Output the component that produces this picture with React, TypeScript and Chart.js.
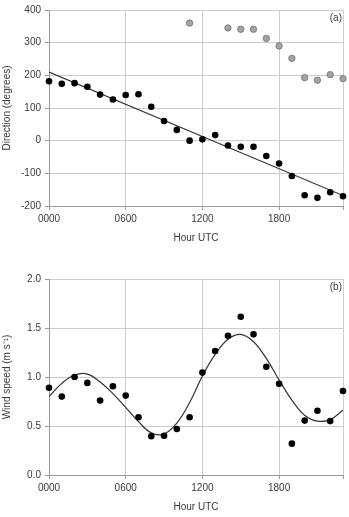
import { useEffect, useRef } from 'react';
import { Chart, registerables } from 'chart.js';

Chart.register(...registerables);

// Hourly observations, 0000–2300 UTC
const hours = [0, 1, 2, 3, 4, 5, 6, 7, 8, 9, 10, 11, 12, 13, 14, 15, 16, 17, 18, 19, 20, 21, 22, 23];

// (a) wind direction, degrees (unwrapped)
const directionDeg = [182, 174, 176, 165, 141, 126, 140, 142, 104, 60, 33, 0, 4, 17, -15, -19, -19, -47, -70, -108, -167, -175, -158, -170];
// same directions shown again on the 0–360 scale
const wrappedHours = [11, 14, 15, 16, 17, 18, 19, 20, 21, 22, 23];
const wrappedDeg = [360, 345, 341, 341, 313, 290, 252, 193, 185, 202, 190];
// linear trend through the unwrapped directions
const trendHours = [0, 23];
const trendDeg = [210, -168];

// (b) wind speed, m/s
const windSpeed = [0.89, 0.8, 1.0, 0.94, 0.76, 0.905, 0.81, 0.59, 0.395, 0.4, 0.47, 0.59, 1.045, 1.265, 1.42, 1.615, 1.435, 1.105, 0.93, 0.32, 0.555, 0.655, 0.55, 0.857];
// harmonic fit to the wind speed
const windFit = [0.8, 0.935, 1.02, 1.03, 0.95, 0.83, 0.69, 0.545, 0.43, 0.42, 0.53, 0.74, 1.01, 1.23, 1.385, 1.435, 1.36, 1.19, 0.97, 0.765, 0.61, 0.55, 0.565, 0.66];

const hourTickValues = [0, 6, 12, 18];
const hourTickLabels = ['0000', '0600', '1200', '1800'];

const FONT = "'Liberation Sans', Arial, sans-serif";
const TEXT = '#3a3a3a';
const GRID = '#cdcdcd';
const AXIS = '#9a9a9a';

const pts = (xs: number[], ys: number[]) => xs.map((x, i) => ({ x, y: ys[i] }));

const panelLabel = {
  id: 'panelLabel',
  afterDraw(chart: any, _args: any, opts: any) {
    const { ctx, chartArea } = chart;
    ctx.save();
    ctx.font = `10px ${FONT}`;
    ctx.fillStyle = TEXT;
    ctx.textAlign = 'right';
    ctx.textBaseline = 'middle';
    ctx.fillText(opts.text, chartArea.right - 1, chartArea.top + 8);
    ctx.restore();
  },
};

function hourAxis(axisHeight: number, titlePadBottom: number) {
  return {
    type: 'linear',
    min: 0,
    max: 23,
    afterBuildTicks(scale: any) {
      scale.ticks = [...hourTickValues, 23].map((v) => ({ value: v }));
    },
    afterFit(scale: any) {
      scale.height = axisHeight;
    },
    ticks: {
      autoSkip: false,
      maxRotation: 0,
      padding: 3,
      color: TEXT,
      font: { family: FONT, size: 10 },
      callback: (v: number) => {
        const i = hourTickValues.indexOf(v);
        return i >= 0 ? hourTickLabels[i] : '';
      },
    },
    grid: { color: GRID, lineWidth: 1, tickLength: 4, tickColor: AXIS },
    border: { color: AXIS, width: 1 },
    title: {
      display: true,
      text: 'Hour UTC',
      color: TEXT,
      font: { family: FONT, size: 10 },
      padding: { top: 0, bottom: titlePadBottom },
    },
  };
}

function valueAxis(min: number, max: number, step: number, title: string, fmt: (v: number) => string) {
  return {
    type: 'linear',
    min,
    max,
    afterFit(scale: any) {
      scale.width = 49;
    },
    ticks: {
      stepSize: step,
      padding: 4,
      color: TEXT,
      font: { family: FONT, size: 10 },
      callback: (v: number) => fmt(v),
    },
    grid: { color: GRID, lineWidth: 1, tickLength: 4, tickColor: AXIS },
    border: { color: AXIS, width: 1 },
    title: {
      display: true,
      text: title,
      color: TEXT,
      font: { family: FONT, size: 10 },
      padding: { top: 1, bottom: 0 },
    },
  };
}

function baseOptions(padTop: number, label: string, x: any, y: any) {
  return {
    responsive: false,
    animation: false,
    devicePixelRatio: 1,
    layout: { padding: { top: padTop, right: 6, left: 0, bottom: 0 } },
    plugins: {
      legend: { display: false },
      tooltip: { enabled: false },
      panelLabel: { text: label },
    },
    scales: { x, y },
  };
}

export default function App() {
  const dirRef = useRef<HTMLCanvasElement>(null);
  const spdRef = useRef<HTMLCanvasElement>(null);

  useEffect(() => {
    const dirChart = new Chart(dirRef.current as HTMLCanvasElement, {
      type: 'scatter',
      data: {
        datasets: [
          {
            data: pts(hours, directionDeg),
            backgroundColor: '#000',
            borderColor: '#000',
            pointRadius: 3.3,
            pointBorderWidth: 0,
            clip: false,
            order: 0,
          },
          {
            data: pts(wrappedHours, wrappedDeg),
            backgroundColor: '#a3a3a3',
            borderColor: '#707070',
            pointRadius: 3.2,
            pointBorderWidth: 0.8,
            clip: false,
            order: 0,
          },
          {
            type: 'line',
            data: pts(trendHours, trendDeg),
            borderColor: '#333',
            borderWidth: 1.2,
            pointRadius: 0,
            showLine: true,
            order: 1,
          },
        ],
      } as any,
      options: baseOptions(
        9,
        '(a)',
        hourAxis(46, 8),
        valueAxis(-200, 400, 100, 'Direction (degrees)', (v) => String(v))
      ) as any,
      plugins: [panelLabel],
    });

    const spdChart = new Chart(spdRef.current as HTMLCanvasElement, {
      type: 'scatter',
      data: {
        datasets: [
          {
            data: pts(hours, windSpeed),
            backgroundColor: '#000',
            borderColor: '#000',
            pointRadius: 3.3,
            pointBorderWidth: 0,
            clip: false,
            order: 0,
          },
          {
            type: 'line',
            data: pts(hours, windFit),
            borderColor: '#333',
            borderWidth: 1.2,
            pointRadius: 0,
            showLine: true,
            tension: 0.4,
            order: 1,
          },
        ],
      } as any,
      options: baseOptions(
        19,
        '(b)',
        hourAxis(42, 4),
        valueAxis(0, 2, 0.5, 'Wind speed (m s\u207B\u00B9)', (v) => v.toFixed(1))
      ) as any,
      plugins: [panelLabel],
    });

    return () => {
      dirChart.destroy();
      spdChart.destroy();
    };
  }, []);

  return (
    <div style={{ position: 'absolute', left: 0, top: 0, width: 349, height: 517, background: '#fff' }}>
      <canvas
        ref={dirRef}
        width={349}
        height={252}
        style={{ position: 'absolute', left: 0, top: 0, width: 349, height: 252 }}
      />
      <canvas
        ref={spdRef}
        width={349}
        height={257}
        style={{ position: 'absolute', left: 0, top: 260, width: 349, height: 257 }}
      />
    </div>
  );
}
